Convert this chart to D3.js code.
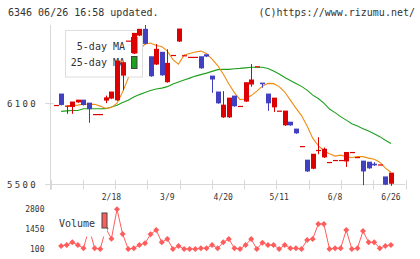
<!DOCTYPE html>
<html>
<head>
<meta charset="utf-8">
<script src="https://cdn.jsdelivr.net/npm/d3@7"></script>
<style>
  body { margin: 0; background: #fff; }
  svg text { font-family: 'DejaVu Sans Mono', monospace; fill: #333; }
</style>
</head>
<body>
<div class="chart"></div>
<script>
// candles, oldest first (index 0 has no volume)
const open  = [6085,6169,6080,6070,6104,6124,6102,6018,6018,6117,6132,6119,6302,6561,6465,6598,6648,6445,6384,6478,
               6253,6455,6554,6453,6441,6441,6445,6460,6302,6184,5993,5993,6154,6078,6110,6236,6371,6250,6169,6067,
               6043,5934,5961,5910,5781,5680,5613,5752,5697,5663,5678,5678,5667,5737,5700,5673,5665,5650,5645,5556,5502];
const close = [6085,6085,6080,6110,6124,6084,6054,6018,6018,6141,6184,6413,6401,6561,6618,6648,6537,6297,6500,6304,
               6396,6455,6650,6453,6441,6441,6356,6443,6273,6097,6087,6139,6075,6078,6253,6273,6371,6238,6097,6139,
               6043,6043,5934,5875,5781,5593,5724,5752,5761,5663,5678,5678,5737,5737,5700,5593,5616,5638,5645,5495,5584];
const high  = [6085,6169,6080,6110,6124,6124,6102,6018,6018,6158,6184,6413,6401,6561,6618,6648,6680,6445,6539,6478,
               6500,6455,6650,6453,6441,6441,6445,6460,6302,6184,6191,6139,6154,6078,6253,6391,6371,6250,6169,6139,
               6043,6043,5961,5910,5781,5680,5724,5850,5773,5663,5678,5678,5737,5737,5700,5673,5665,5665,5645,5556,5584];
const low   = [6085,6085,6023,6023,6104,6084,5956,6018,6018,6102,6132,6119,6198,6561,6465,6598,6537,6297,6384,6304,
               6253,6455,6554,6453,6441,6441,6356,6443,6178,6097,5993,5993,6075,6078,6110,6223,6371,6216,6045,6036,
               6043,5934,5934,5875,5781,5593,5613,5724,5697,5663,5678,5678,5630,5737,5700,5495,5616,5638,5645,5495,5490];
const ma5   = [null,null,6084,6084,6087,6095,6093,6093,6080,6063,6069,6102,6184,6287,6384,6495,6539,6547,6528,6521,
               6487,6424,6391,6458,6469,6480,6487,6469,6428,6380,6317,6243,6180,6128,6132,6158,6191,6228,6248,6246,
               6224,6184,6124,6065,6010,5932,5843,5787,5750,5728,5710,5717,5706,5700,5706,5706,5695,5687,5665,5621,5591];
const ma25  = [null,6041,6045,6048,6048,6060,6060,6060,6060,6061,6073,6087,6106,6124,6147,6165,6180,6195,6206,6213,
               6224,6243,6258,6273,6287,6302,6313,6324,6337,6350,6352,6352,6356,6359,6363,6367,6367,6367,6358,6339,
               6317,6291,6269,6247,6226,6198,6161,6136,6102,6058,6032,6002,5976,5950,5932,5913,5895,5876,5854,5828,5804];
const volume = [null,304,372,556,372,148,1500,148,100,1500,800,2800,1120,100,148,372,488,1100,1390,556,
                780,100,304,100,100,100,148,148,372,148,556,780,148,100,372,780,100,530,372,372,
                100,372,148,148,100,712,780,1800,1800,100,148,148,1390,100,148,1320,556,556,148,304,372];

const labelIdx = [10, 20, 30, 40, 50, 60];
const labelText = ['2/18', '3/9', '4/20', '5/11', '6/8', '6/26'];
const priceTicks = [6100, 5500];
const volTicks = [2800, 1450, 100];

const UP = '#dd0000', DOWN = '#4040c0', ORANGE = '#f08c10', GREEN = '#1ea01e', VOL = '#ff5c5c';

function draw() {
  const left = 50.5, right = 405.5, top = 25, bottom = 184.5;

  const svg = d3.select('.chart')
    .append('svg')
      .attr('width', 420)
      .attr('height', 259);

  const x = d3.scaleLinear().domain([-0.9, 62.6]).range([left, right]);
  const y = d3.scaleLinear().domain([5500, 6680]).range([bottom, top]);
  const yv = d3.scaleLinear().domain([100, 2800]).range([249, 209.3]);

  // header
  svg.append('text').attr('x', 8).attr('y', 15.5).style('font-size', '10px')
    .text('6346 06/26 16:58 updated.');
  svg.append('text').attr('x', 415).attr('y', 15.5).attr('text-anchor', 'end').style('font-size', '10px')
    .text('(C)https://www.rizumu.net/');

  // axes
  const grid = svg.append('g').attr('stroke', '#d8d8d8').attr('stroke-width', 1);
  grid.append('line').attr('x1', left).attr('x2', left).attr('y1', top).attr('y2', 190);
  grid.append('line').attr('x1', 45).attr('x2', right).attr('y1', bottom).attr('y2', bottom);
  grid.selectAll('.xt')
    .data(d3.range(12).map(k => left + k * (right - left) / 11))
    .enter().append('line')
      .attr('x1', d => Math.round(d) + 0.5).attr('x2', d => Math.round(d) + 0.5)
      .attr('y1', 180).attr('y2', 189.5);
  grid.append('line').attr('x1', 45).attr('x2', 53.5)
    .attr('y1', Math.round(y(6100)) + 0.5).attr('y2', Math.round(y(6100)) + 0.5);

  svg.selectAll('.pl')
    .data(priceTicks)
    .enter().append('text')
      .attr('x', 7).attr('y', d => y(d)).attr('dy', '0.35em')
      .style('font-size', '9px').style('letter-spacing', '2.3px')
      .text(d => d);

  svg.selectAll('.dl')
    .data(labelIdx)
    .enter().append('text')
      .attr('x', d => x(d)).attr('y', 200)
      .attr('text-anchor', 'middle').style('font-size', '8px')
      .text((d, i) => labelText[i]);

  // moving averages
  const line = d3.line()
    .defined(d => d != null)
    .x((d, i) => x(i))
    .y(d => y(d));
  svg.append('path').attr('d', line(ma25)).attr('fill', 'none').attr('stroke', GREEN).attr('stroke-width', 1.1);
  svg.append('path').attr('d', line(ma5)).attr('fill', 'none').attr('stroke', ORANGE).attr('stroke-width', 1.1);

  // legend (under the candles)
  const lg = svg.append('g');
  lg.append('rect').attr('x', 65.5).attr('y', 30.5).attr('width', 77).attr('height', 46.5)
    .attr('fill', '#fff').attr('stroke', '#ddd');
  lg.append('text').attr('x', 125).attr('y', 49.5).attr('text-anchor', 'end').style('font-size', '10px').text('5-day MA');
  lg.append('text').attr('x', 125).attr('y', 66).attr('text-anchor', 'end').style('font-size', '10px').text('25-day MA');
  lg.append('rect').attr('x', 131.5).attr('y', 37.5).attr('width', 5.5).attr('height', 15)
    .attr('fill', ORANGE).attr('stroke', '#444');
  lg.append('rect').attr('x', 131.5).attr('y', 56.5).attr('width', 5.5).attr('height', 12)
    .attr('fill', GREEN).attr('stroke', '#444');

  // candles
  const idx = d3.range(open.length);
  const col = i => close[i] >= open[i] ? UP : DOWN;
  const c = svg.append('g').selectAll('g').data(idx).enter().append('g');
  c.append('line')
    .attr('x1', i => Math.round(x(i)) + 0.5).attr('x2', i => Math.round(x(i)) + 0.5)
    .attr('y1', i => y(high[i])).attr('y2', i => y(low[i]))
    .attr('stroke', col).attr('stroke-width', 1);
  c.append('rect')
    .attr('x', i => Math.round(x(i)) - 2)
    .attr('width', 5)
    .attr('y', i => Math.min(y(open[i]), y(close[i])) - 0.5)
    .attr('height', i => Math.max(1.2, Math.abs(y(open[i]) - y(close[i]))))
    .attr('fill', col);

  // volume
  const vline = d3.line()
    .defined(d => d != null)
    .x((d, i) => x(i))
    .y(d => yv(d));
  svg.append('path').attr('d', vline(volume)).attr('fill', 'none').attr('stroke', VOL).attr('stroke-width', 1);
  svg.append('g').selectAll('path')
    .data(idx.filter(i => volume[i] != null))
    .enter().append('path')
      .attr('transform', i => `translate(${x(i)},${yv(volume[i])})`)
      .attr('d', 'M0,-3L3,0L0,3L-3,0Z')
      .attr('fill', VOL);

  const vl = svg.append('g');
  vl.append('rect').attr('x', 56).attr('y', 207).attr('width', 51).attr('height', 29.5).attr('fill', '#fff');
  vl.append('text').attr('x', 59).attr('y', 227).style('font-size', '10px').text('Volume');
  vl.append('rect').attr('x', 102).attr('y', 213).attr('width', 5).attr('height', 15)
    .attr('fill', VOL).attr('stroke', '#444');

  svg.selectAll('.vt')
    .data(volTicks)
    .enter().append('text')
      .attr('x', 44.5).attr('y', d => yv(d)).attr('dy', '0.35em')
      .attr('text-anchor', 'end').style('font-size', '8px')
      .text(d => d);
}

draw();
</script>
</body>
</html>
